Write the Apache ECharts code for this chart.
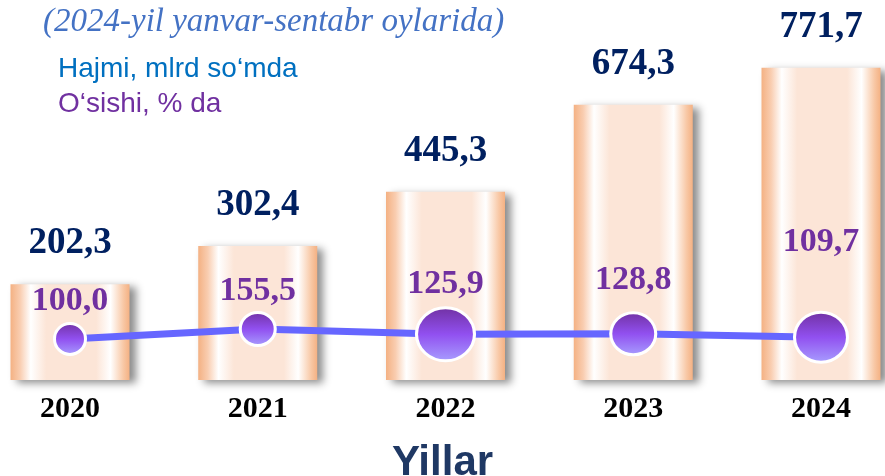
<!DOCTYPE html>
<html>
<head>
<meta charset="utf-8">
<script src="https://cdn.jsdelivr.net/npm/echarts@6/dist/echarts.min.js"></script>
<style>html,body{margin:0;padding:0;background:#fff;}#c{width:885px;height:476px;}</style>
</head>
<body>
<div id="c"></div>
<script>
// ---- data ----
const years = ['2020', '2021', '2022', '2023', '2024'];
const volume = [202.3, 302.4, 445.3, 674.3, 771.7];      // Hajmi, mlrd so'mda
const growth = [100.0, 155.5, 125.9, 128.8, 109.7];      // O'sishi, % da
const titleText = '(2024-yil yanvar-sentabr oylarida)';
const volumeName = 'Hajmi, mlrd so\u2018mda';
const growthName = 'O\u2018sishi, % da';
const axisName = 'Yillar';

// ---- styles ----
const markerSizes = [[31, 31], [35, 33], [58, 53], [45, 42], [53, 50]];
const labelGaps = [4, 3, 5, 14, 52];

const fmt = v => v.toFixed(1).replace('.', ',');

const chart = echarts.init(document.getElementById('c'), null, {renderer: 'canvas'});

const barGrad = new echarts.graphic.LinearGradient(0, 0, 1, 0, [
  {offset: 0, color: '#f4b183'},
  {offset: 0.08, color: '#f9cdb0'},
  {offset: 0.17, color: '#ffffff'},
  {offset: 0.30, color: '#fce5d7'},
  {offset: 0.72, color: '#fce5d7'},
  {offset: 0.84, color: '#ffffff'},
  {offset: 0.95, color: '#f8c7a4'},
  {offset: 1, color: '#f4b183'}
]);
const dotGrad = new echarts.graphic.LinearGradient(0, 0, 0, 1, [
  {offset: 0, color: '#7030a0'},
  {offset: 0.5, color: '#9150f0'},
  {offset: 1, color: '#a8a0ff'}
]);

chart.setOption({
  animation: false,
  title: [
    {text: titleText, left: 38, top: 1,
     textStyle: {fontFamily: 'Liberation Serif', fontStyle: 'italic', fontWeight: 'normal', fontSize: 33, color: '#4472c4'}},
    {text: volumeName, left: 53, top: 50,
     textStyle: {fontFamily: 'Liberation Sans', fontWeight: 'normal', fontSize: 28, color: '#0070c0'}},
    {text: growthName, left: 53, top: 85,
     textStyle: {fontFamily: 'Liberation Sans', fontWeight: 'normal', fontSize: 28, color: '#7030a0'}},
    {text: axisName, left: 'center', top: 437,
     textStyle: {fontFamily: 'Liberation Sans', fontWeight: 'bold', fontSize: 42, color: '#1f3864'}}
  ],
  grid: {left: 70, right: 64, top: 19, bottom: 96},
  xAxis: {
    type: 'category', data: years, boundaryGap: false,
    axisLine: {show: false}, axisTick: {show: false}, splitLine: {show: false},
    axisLabel: {margin: 14, fontFamily: 'Liberation Serif', fontWeight: 'bold', fontSize: 30, color: '#000'}
  },
  yAxis: [
    {type: 'value', min: -50, max: 900, startValue: -50, show: false, splitLine: {show: false}},
    {type: 'value', min: -128, max: 1878, show: false, splitLine: {show: false}}
  ],
  series: [
    {
      type: 'bar', yAxisIndex: 0, data: volume, barWidth: 119, clip: false, z: 2,
      itemStyle: {color: barGrad, shadowColor: 'rgba(0,0,0,0.45)', shadowBlur: 8, shadowOffsetX: 6, shadowOffsetY: 3},
      label: {show: true, position: 'top', distance: 22, formatter: p => fmt(p.value),
        fontFamily: 'Liberation Serif', fontWeight: 'bold', fontSize: 37, color: '#002060'}
    },
    {
      type: 'line', yAxisIndex: 1, clip: false, z: 5,
      data: growth.map((v, i) => ({
        value: v,
        symbolSize: markerSizes[i],
        label: {distance: labelGaps[i]}
      })),
      symbol: 'circle',
      lineStyle: {color: '#6666ff', width: 7},
      itemStyle: {color: dotGrad, borderColor: '#ffffff', borderWidth: 3},
      label: {show: true, position: 'top', formatter: p => fmt(p.value),
        fontFamily: 'Liberation Serif', fontWeight: 'bold', fontSize: 34, color: '#7030a0'}
    }
  ]
});
</script>
</body>
</html>
